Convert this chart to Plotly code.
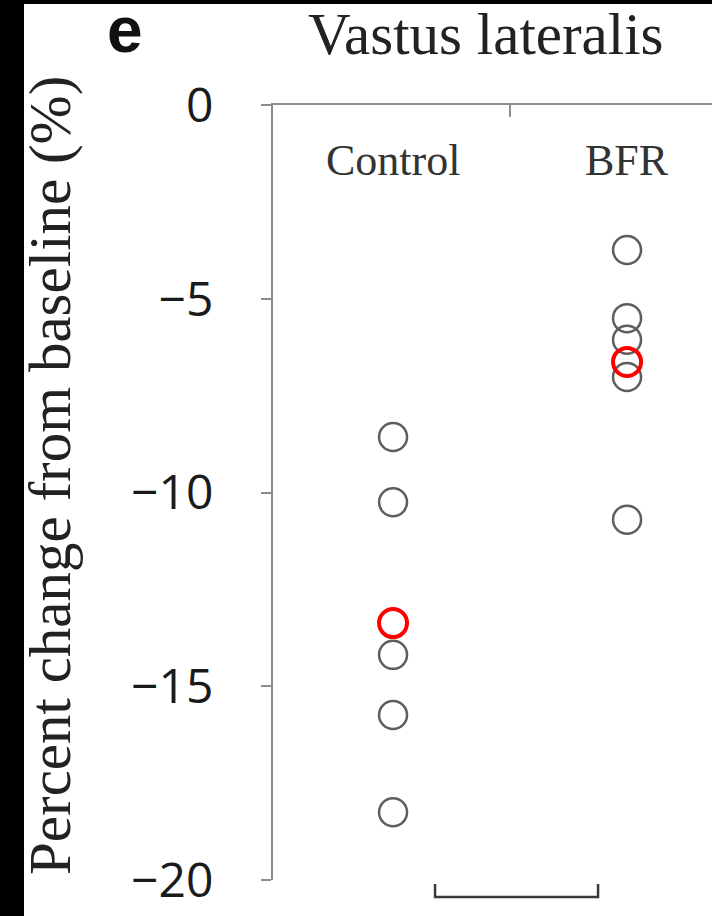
import plotly.graph_objects as go

# ---- data ----
groups = ["Control", "BFR"]
control_values = [-8.57, -10.25, -14.19, -15.74, -18.25]
bfr_values = [-3.74, -5.5, -6.06, -7.02, -10.7]
control_mean = -13.37
bfr_mean = -6.63
y_tick_vals = [0, -5, -10, -15, -20]
title_text = "Vastus lateralis"
y_title = "Percent change from baseline (%)"
panel_letter = "e"

W, H = 712, 916
L, R, T, B = 273, 0, 105, 36
PW, PH = W - L - R, H - T - B

def px_x(px):
    return (px - L) / PW

def px_y(py):
    return (H - B - py) / PH

fig = go.Figure()

grey = "#5e5e5e"
fig.add_trace(go.Scatter(
    x=[0] * len(control_values), y=control_values, mode="markers",
    marker=dict(symbol="circle-open", size=28, color=grey, line=dict(width=2.5, color=grey)),
    showlegend=False, hoverinfo="y"))
fig.add_trace(go.Scatter(
    x=[1] * len(bfr_values), y=bfr_values, mode="markers",
    marker=dict(symbol="circle-open", size=28, color=grey, line=dict(width=2.5, color=grey)),
    showlegend=False, hoverinfo="y"))
fig.add_trace(go.Scatter(
    x=[0, 1], y=[control_mean, bfr_mean], mode="markers",
    marker=dict(symbol="circle-open", size=28, color="#ff0000", line=dict(width=4, color="#ff0000")),
    showlegend=False, hoverinfo="y"))

axis_col = "#8c8c8c"
fig.update_xaxes(
    range=[-0.513, 1.363], side="top", showline=True, linecolor=axis_col, linewidth=2,
    showgrid=False, zeroline=False, ticks="inside", tickvals=[0.5], ticklen=12,
    tickcolor=axis_col, tickwidth=2, showticklabels=False)
fig.update_yaxes(
    range=[-20, 0], showline=True, linecolor=axis_col, linewidth=2,
    showgrid=False, zeroline=False, ticks="outside", tickvals=y_tick_vals, ticklen=10,
    tickcolor=axis_col, tickwidth=2, ticklabelstandoff=38,
    tickfont=dict(family="Open Sans", size=48, color="#1a1a1a"))

serif = "Liberation Serif"
# category labels
for i, g in enumerate(groups):
    fig.add_annotation(x=i, y=-1.42, xref="x", yref="y", text=g, showarrow=False,
                       font=dict(family=serif, size=44, color="#333333"),
                       xanchor="center", yanchor="middle")
# title
fig.add_annotation(x=px_x(486), y=px_y(34), xref="paper", yref="paper", text=title_text,
                   showarrow=False, font=dict(family=serif, size=59, color="#222222"),
                   xanchor="center", yanchor="middle")
# panel letter
fig.add_annotation(x=px_x(125), y=px_y(30), xref="paper", yref="paper", text="<b>" + panel_letter + "</b>",
                   showarrow=False, font=dict(family="Liberation Sans", size=64, color="#111111"),
                   xanchor="center", yanchor="middle")
# y title
fig.add_annotation(x=px_x(50), y=px_y(476), xref="paper", yref="paper", text=y_title,
                   showarrow=False, textangle=-90,
                   font=dict(family=serif, size=59, color="#222222"),
                   xanchor="center", yanchor="middle")

# bracket below the axis
x0 = (435 - 393) / 234
x1 = (598 - 393) / 234
yb = px_y(897)
yt = px_y(884)
fig.add_shape(type="path", xref="x", yref="paper",
              path=f"M {x0},{yt} L {x0},{yb} L {x1},{yb} L {x1},{yt}",
              line=dict(color="#3a3a3a", width=2.5))

# black frame strips (top and left)
fig.add_shape(type="rect", xref="paper", yref="paper", x0=px_x(0), x1=px_x(W), y0=px_y(4), y1=px_y(0),
              fillcolor="black", line=dict(width=0), layer="above")
fig.add_shape(type="rect", xref="paper", yref="paper", x0=px_x(0), x1=px_x(24), y0=px_y(H), y1=px_y(0),
              fillcolor="black", line=dict(width=0), layer="above")

fig.update_layout(
    width=W, height=H, margin=dict(l=L, r=R, t=T, b=B, pad=0),
    paper_bgcolor="white", plot_bgcolor="white")

fig.write_html("out.html")
